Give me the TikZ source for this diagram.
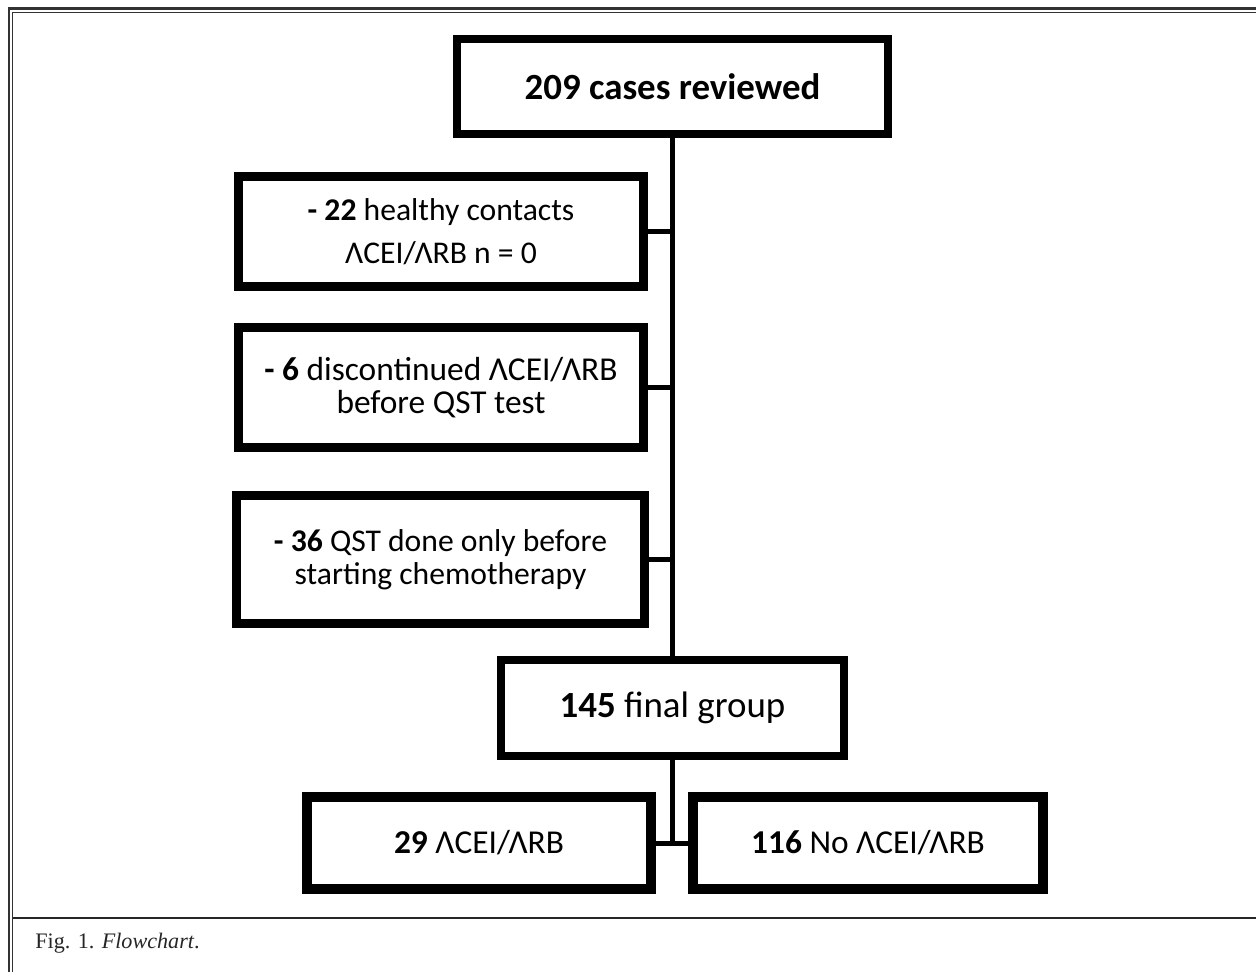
\documentclass[tikz,border=0pt]{standalone}
\usepackage{fontspec}
\usepackage{xcolor}
\setmainfont{Carlito}
\newfontfamily\capfont{Liberation Serif}

\tikzset{
  box/.style={draw=black, rectangle, align=center, inner sep=0pt},
  link/.style={draw=black, line width=0.1cm}
}

\begin{document}
\begin{tikzpicture}[x=0.02cm, y=-0.02cm]
    % FRAME
    \fill[white] (0,0) rectangle (1256,972);
    \useasboundingbox (0,0) rectangle (1256,972);
    \draw[line width=1.7pt, color=black!80] (9,972) -- (9,9) -- (1256,9);
    \draw[line width=0.7pt, color=black!80] (12.5,972) -- (12.5,12.5) -- (1256,12.5);
    \draw[line width=1.4pt, color=black!85] (12.5,918) -- (1256,918);

    % NODES
    % top node
    \node[box, line width=0.16cm, minimum width=8.64cm, minimum height=1.9cm,
          font=\fontsize{21}{25}\selectfont\bfseries] (rev) at (672.5,86.5) {209 cases reviewed};
    % excluded 1
    \node[box, line width=0.18cm, minimum width=8.1cm, minimum height=2.2cm,
          font=\fontsize{18}{24.5}\selectfont] (ex1) at (441,231.5)
          {\textbf{- 22} healthy contacts\\ΛCEI/ΛRB n = 0};
    % excluded 2
    \node[box, line width=0.18cm, minimum width=8.12cm, minimum height=2.4cm,
          font=\fontsize{19}{19}\selectfont] (ex2) at (441,387.5)
          {\textbf{- 6} discontinued ΛCEI/ΛRB\\before QST test};
    % excluded 3
    \node[box, line width=0.18cm, minimum width=8.16cm, minimum height=2.56cm,
          font=\fontsize{18}{18.5}\selectfont] (ex3) at (440.5,559.5)
          {\textbf{- 36} QST done only before\\starting chemotherapy};
    % final group
    \node[box, line width=0.16cm, minimum width=6.86cm, minimum height=1.92cm,
          font=\fontsize{21}{25}\selectfont] (fin) at (672.5,708) {\textbf{145} final group};
    % split nodes
    \node[box, line width=0.2cm, minimum width=6.88cm, minimum height=1.84cm,
          font=\fontsize{19}{23}\selectfont] (acei) at (479,843) {\textbf{29} ΛCEI/ΛRB};
    \node[box, line width=0.2cm, minimum width=7cm, minimum height=1.84cm,
          font=\fontsize{19}{23}\selectfont] (noacei) at (868,843) {\textbf{116} No ΛCEI/ΛRB};
    % caption node
    \node[anchor=base west, inner sep=0pt, font=\capfont\fontsize{12.6}{15}\selectfont,
          color=black!85] (cap) at (35,948) {Fig. 1. \textit{Flowchart}.};

    % ARROWS
    \draw[link] (rev.south) -- (fin.north);
    \draw[link] (ex1.east) -- (ex1.east -| rev.south);
    \draw[link] (ex2.east) -- (ex2.east -| rev.south);
    \draw[link] (ex3.east) -- (ex3.east -| rev.south);
    \draw[link] (fin.south) -- (fin.south |- acei.east);
    \draw[link] (acei.east) -- (noacei.west);
  \end{tikzpicture}
\end{document}
